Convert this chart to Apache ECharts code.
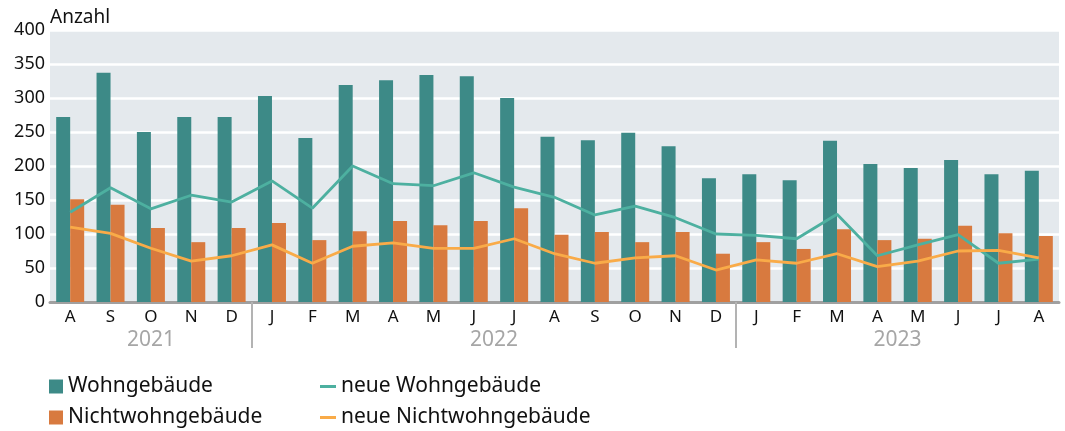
<!DOCTYPE html>
<html>
<head>
<meta charset="utf-8">
<script src="https://cdn.jsdelivr.net/npm/echarts@6/dist/echarts.min.js"></script>
<style>
  html, body { margin: 0; padding: 0; background: #fff; }
  #chart { width: 1065px; height: 431px; }
</style>
</head>
<body>
<div id="chart"></div>
<script>
// Monate Aug 2021 bis Aug 2023
const months = ['A', 'S', 'O', 'N', 'D',
  'J', 'F', 'M', 'A', 'M', 'J', 'J', 'A', 'S', 'O', 'N', 'D',
  'J', 'F', 'M', 'A', 'M', 'J', 'J', 'A']
const years = ['2021', '2022', '2023']
const monthsPerYear = [5, 12, 8]

const wohngebaeude = [272, 337, 250, 272, 272,
  303, 241, 319, 326, 334, 332, 300, 243, 238, 249, 229, 182,
  188, 179, 237, 203, 197, 209, 188, 193]
const nichtwohngebaeude = [151, 143, 109, 88, 109,
  116, 91, 104, 119, 113, 119, 138, 99, 103, 88, 103, 71,
  88, 78, 107, 91, 93, 112, 101, 97]
const neueWohngebaeude = [132, 168, 137, 157, 147,
  178, 138, 200, 174, 171, 190, 169, 154, 128, 141, 124, 100,
  98, 93, 129, 68, 84, 99, 57, 63]
const neueNichtwohngebaeude = [110, 101, 79, 60, 68,
  84, 57, 82, 87, 79, 79, 93, 71, 57, 65, 68, 47,
  62, 57, 71, 52, 60, 75, 76, 65]

// Jahresgrenzen und -mitten auf der Monatsachse
const yearBounds = []
const yearCenters = []
let start = 0
monthsPerYear.forEach((n, i) => {
  yearCenters.push(start + n / 2)
  start += n
  if (i < monthsPerYear.length - 1) yearBounds.push(start)
})

const font = 'Noto Sans'
const textColor = '#111111'
const chart = echarts.init(document.getElementById('chart'))

chart.setOption({
  textStyle: { fontFamily: font },
  animation: false,
  grid: {
    left: 50,
    right: 6,
    top: 30,
    height: 272,
    show: true,
    backgroundColor: '#e4e9ed',
    borderWidth: 0
  },
  legend: [
    {
      data: ['Wohngebäude', 'Nichtwohngebäude'],
      orient: 'vertical',
      left: 49,
      top: 376,
      padding: 0,
      itemWidth: 14,
      itemHeight: 14,
      itemGap: 10,
      icon: 'rect',
      textStyle: { fontSize: 21, lineHeight: 21, color: textColor, fontFamily: font }
    },
    {
      data: ['neue Wohngebäude', 'neue Nichtwohngebäude'],
      orient: 'vertical',
      left: 320,
      top: 376,
      padding: 0,
      itemWidth: 16,
      itemHeight: 3,
      itemGap: 10,
      icon: 'rect',
      textStyle: { fontSize: 21, lineHeight: 21, color: textColor, fontFamily: font }
    }
  ],
  xAxis: [
    {
      type: 'category',
      data: months,
      axisLine: { lineStyle: { color: '#a0a0a0', width: 3 } },
      axisTick: { show: false },
      axisLabel: { fontSize: 17, color: textColor, margin: 7, interval: 0 }
    },
    {
      type: 'value',
      min: 0,
      max: months.length,
      position: 'bottom',
      axisLine: { show: false },
      splitLine: { show: false },
      axisTick: {
        show: true,
        customValues: yearBounds,
        length: 46,
        lineStyle: { color: '#b3b3b3', width: 2 }
      },
      axisLabel: {
        customValues: yearCenters,
        margin: 28,
        fontSize: 21,
        color: '#a6a6a6',
        formatter: (v) => {
          const i = yearCenters.indexOf(v)
          return i >= 0 ? years[i] : ''
        }
      }
    }
  ],
  yAxis: {
    type: 'value',
    min: 0,
    max: 400,
    interval: 50,
    name: 'Anzahl',
    nameLocation: 'end',
    nameGap: 3,
    nameMoveOverlap: false,
    nameTextStyle: { align: 'left', verticalAlign: 'bottom', fontSize: 19, color: textColor },
    axisLine: { show: false },
    axisTick: { show: false },
    axisLabel: { fontSize: 18, color: textColor, margin: 5 },
    splitLine: { lineStyle: { color: '#ffffff', width: 2.5 } }
  },
  series: [
    {
      name: 'Wohngebäude',
      type: 'bar',
      data: wohngebaeude,
      barWidth: 14,
      barGap: '0%',
      itemStyle: { color: '#3d8a87' }
    },
    {
      name: 'Nichtwohngebäude',
      type: 'bar',
      data: nichtwohngebaeude,
      barWidth: 14,
      barGap: '0%',
      itemStyle: { color: '#d87a3f' }
    },
    {
      name: 'neue Wohngebäude',
      type: 'line',
      data: neueWohngebaeude,
      symbol: 'none',
      z: 5,
      lineStyle: { color: '#4db0a0', width: 2.8 },
      itemStyle: { color: '#4db0a0' }
    },
    {
      name: 'neue Nichtwohngebäude',
      type: 'line',
      data: neueNichtwohngebaeude,
      symbol: 'none',
      z: 5,
      lineStyle: { color: '#f9ab48', width: 2.8 },
      itemStyle: { color: '#f9ab48' }
    }
  ]
})

window.addEventListener('resize', () => {
  chart.resize()
})
</script>
</body>
</html>
